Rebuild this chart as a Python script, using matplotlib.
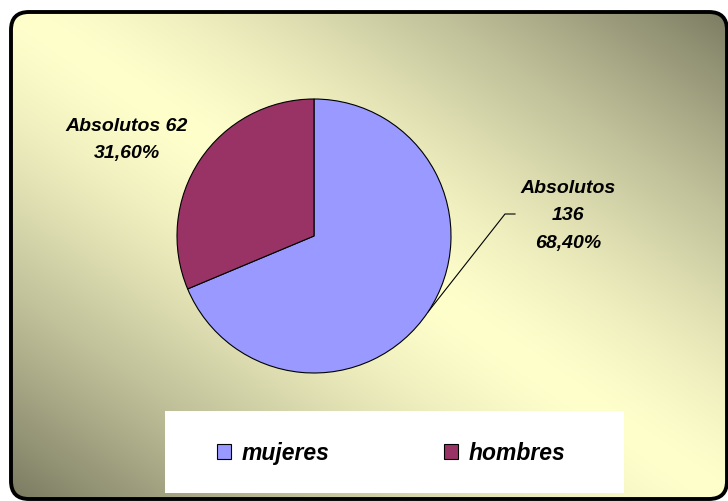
import numpy as np
import matplotlib
matplotlib.use('Agg')
import matplotlib.pyplot as plt
from matplotlib.patches import FancyBboxPatch, Rectangle
from matplotlib.lines import Line2D

plt.rcParams['font.family'] = ['Liberation Sans', 'DejaVu Sans']

# data
categories = ['mujeres', 'hombres']
absolutos = [136, 62]
porcentajes = ['68,40%', '31,60%']
colors = ['#9999FF', '#993366']

W, H = 728, 502
fig = plt.figure(figsize=(W / 100, H / 100), dpi=100)
fig.patch.set_facecolor('white')

# background axes in image pixel coordinates (y down)
ax_bg = fig.add_axes([0, 0, 1, 1])
ax_bg.set_xlim(0, W)
ax_bg.set_ylim(H, 0)
ax_bg.axis('off')

# diagonal gradient: light along TL-BR diagonal, dark toward other corners
yy, xx = np.mgrid[0:H, 0:W]
t = np.abs(xx / W - yy / H) ** 1.4
light = np.array([255, 255, 204]) / 255
dark = np.array([118, 118, 94]) / 255
grad = light * (1 - t[..., None]) + dark * t[..., None]

frame = FancyBboxPatch((11, 13), 716, 487,
                       boxstyle='round,pad=0,rounding_size=18',
                       facecolor='none', edgecolor='black', linewidth=2.8, zorder=3)
ax_bg.add_patch(frame)
im = ax_bg.imshow(grad, extent=(0, W, H, 0), zorder=1, interpolation='bilinear')
im.set_clip_path(frame)

# legend box
ax_bg.add_patch(Rectangle((165, 412), 459, 82, facecolor='white', edgecolor='none', zorder=2))

# pie
cx, cy, r = 314, 237, 137
ax_pie = fig.add_axes([(cx - r) / W, (H - cy - r) / H, 2 * r / W, 2 * r / H])
wedges, _ = ax_pie.pie(absolutos, colors=colors, startangle=90, counterclock=False,
                       wedgeprops=dict(edgecolor='black', linewidth=0.8))
ax_pie.set_xlim(-1, 1)
ax_pie.set_ylim(-1, 1)
ax_pie.set_aspect('equal')
ax_pie.axis('off')

lab_font = dict(fontsize=14, fontweight='bold', fontstyle='italic', ha='center', va='center',
                zorder=4)

# hombres label
ax_bg.text(127, 140, f'Absolutos {absolutos[1]}\n{porcentajes[1]}', linespacing=1.72, **lab_font)

# mujeres label with leader line
ax_bg.text(568, 216, f'Absolutos\n{absolutos[0]}\n{porcentajes[0]}', linespacing=1.8, **lab_font)
w0 = wedges[0]
mid = np.deg2rad((w0.theta1 + w0.theta2) / 2)
ex, ey = cx + r * np.cos(mid), cy - r * np.sin(mid)
ax_bg.add_line(Line2D([ex, 505, 515], [ey, 215, 215], color='black', linewidth=0.8, zorder=4))

# legend
leg = fig.legend(wedges, categories, loc='center', ncol=2,
                 bbox_to_anchor=(391 / W, (H - 454) / H), frameon=False,
                 prop=dict(family='Liberation Sans', weight='bold', style='italic', size=16.5),
                 handlelength=0.62, handleheight=0.62, handletextpad=0.45, columnspacing=5.0)

fig.savefig('out.png', dpi=100)
